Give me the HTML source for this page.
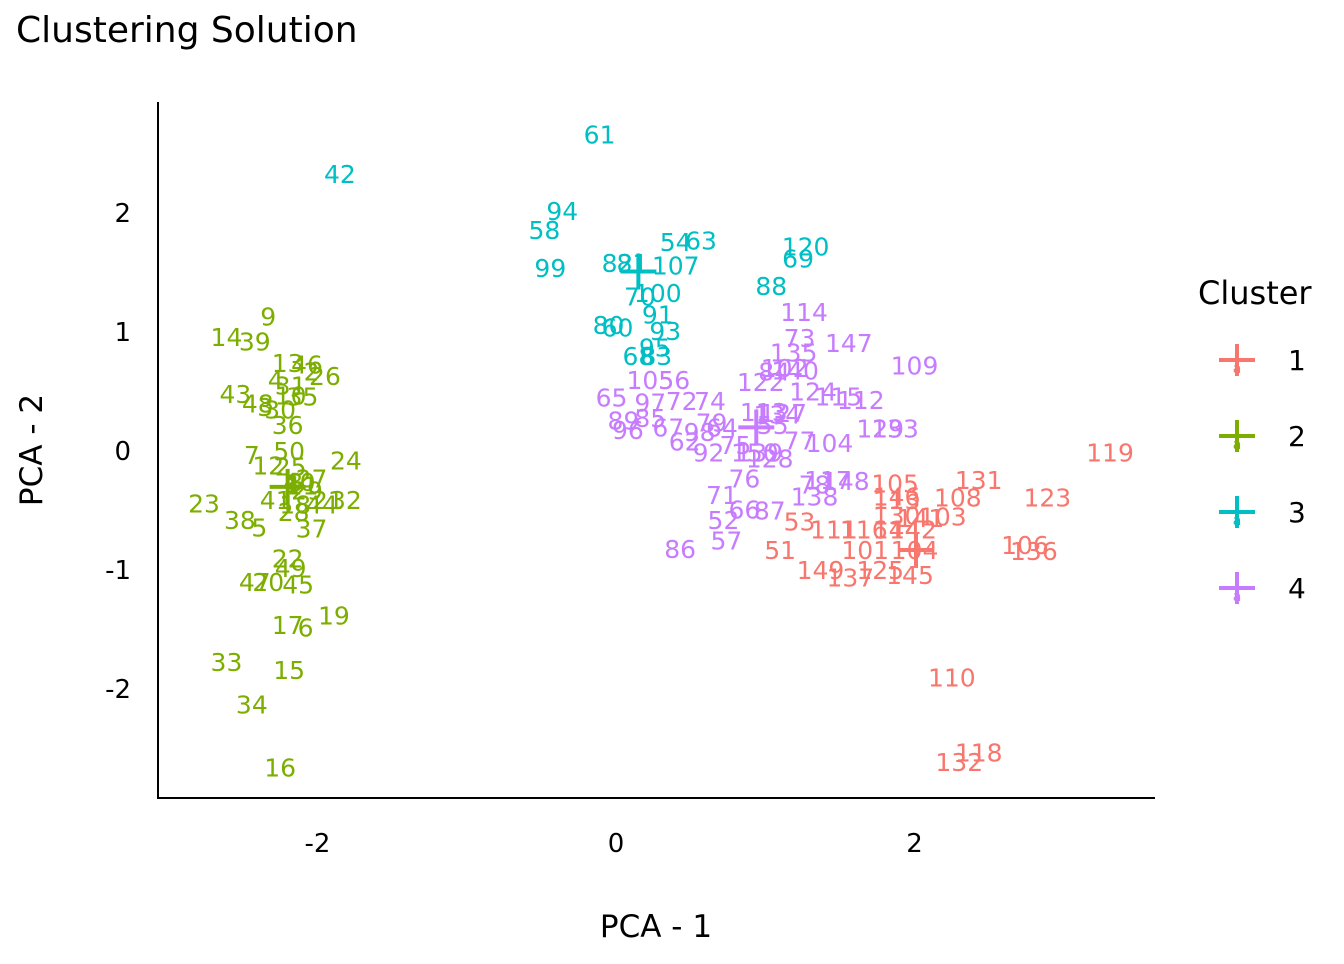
<!DOCTYPE html>
<html><head><meta charset="utf-8"><style>
body{margin:0;background:#fff;font-family:"DejaVu Sans",sans-serif}
svg text{font-family:"DejaVu Sans",sans-serif}
</style></head><body>
<svg id="chart" width="1344" height="960" xmlns="http://www.w3.org/2000/svg">
<text x="16" y="42" font-size="36" fill="#000">Clustering Solution</text>
<line x1="158" y1="102" x2="158" y2="799" stroke="#000" stroke-width="2"/>
<line x1="157" y1="798" x2="1155" y2="798" stroke="#000" stroke-width="2"/>
<text x="656" y="937" font-size="31" text-anchor="middle">PCA - 1</text>
<text transform="translate(42,450) rotate(-90)" font-size="31" text-anchor="middle">PCA - 2</text>
<g id="ticks"></g><g id="marks"></g><g id="legend"></g>
</svg>
<script>
const xTicks=[-2,0,2];
const yTicks=[2,1,0,-1,-2];
const clusterNames=["1","2","3","4"];
const colors=["#F8766D","#7CAE00","#00BFC4","#C77CFF"];
const labels=["9","14","39","13","46","2","26","4","31","35","10","43","48","3","30","36","7","50","12","25","24","27","8","40","1","29","23","41","18","21","32","44","28","38","5","37","22","49","47","20","45","17","6","19","33","15","34","16","11",
"61","42","94","58","99","82","81","107","54","63","120","69","88","70","100","91","80","60","93","95","68","83",
"114","73","135","147","109","84","102","140","122","124","115","112","105","56","65","97","72","74","85","89","96","67","62","92","98","79","64","75","113","127","134","55","150","139","128","77","104","129","133","78","117","148","76","71","138","66","87","52","57","86",
"119","131","123","105","146","113","108","130","141","103","53","111","116","144","142","101","104","51","149","125","137","145","106","136","110","118","132"];
const xs=[-2.33,-2.61,-2.42,-2.20,-2.07,-2.04,-1.95,-2.28,-2.18,-2.10,-2.18,-2.55,-2.40,-2.35,-2.25,-2.20,-2.44,-2.19,-2.33,-2.18,-1.81,-2.04,-2.15,-2.12,-2.17,-2.07,-2.76,-2.28,-2.15,-1.93,-1.81,-1.97,-2.16,-2.52,-2.39,-2.04,-2.20,-2.18,-2.42,-2.33,-2.13,-2.20,-2.08,-1.89,-2.61,-2.19,-2.44,-2.25,-2.10,
-0.11,-1.85,-0.36,-0.48,-0.44,0.01,0.11,0.40,0.40,0.57,1.27,1.22,1.04,0.16,0.28,0.28,-0.05,0.01,0.33,0.26,0.15,0.27,
1.26,1.23,1.19,1.56,2.00,1.06,1.13,1.20,0.97,1.32,1.49,1.64,0.23,0.39,-0.03,0.23,0.44,0.63,0.23,0.05,0.08,0.35,0.46,0.62,0.56,0.64,0.71,0.80,0.99,1.12,1.08,1.05,0.93,0.96,1.03,1.23,1.43,1.77,1.87,1.33,1.42,1.54,0.86,0.71,1.33,0.86,1.03,0.72,0.74,0.43,
3.31,2.43,2.89,1.87,1.88,1.88,2.29,1.88,2.04,2.19,1.23,1.46,1.66,1.88,1.99,1.67,2.00,1.10,1.37,1.77,1.57,1.97,2.74,2.80,2.25,2.43,2.30];
const ys=[1.12,0.95,0.91,0.73,0.72,0.66,0.62,0.59,0.54,0.45,0.46,0.47,0.39,0.36,0.34,0.21,-0.04,-0.01,-0.13,-0.14,-0.09,-0.24,-0.27,-0.27,-0.28,-0.34,-0.45,-0.42,-0.46,-0.42,-0.42,-0.46,-0.52,-0.59,-0.65,-0.66,-0.91,-0.99,-1.11,-1.11,-1.13,-1.47,-1.49,-1.39,-1.78,-1.85,-2.14,-2.67,-0.30,
2.65,2.32,2.01,1.85,1.53,1.57,1.57,1.55,1.75,1.76,1.71,1.61,1.38,1.29,1.32,1.14,1.05,1.03,1.00,0.86,0.79,0.79,
1.16,0.94,0.82,0.90,0.71,0.66,0.69,0.67,0.57,0.49,0.45,0.42,0.59,0.59,0.44,0.40,0.41,0.41,0.27,0.25,0.17,0.19,0.07,-0.02,0.15,0.23,0.19,0.04,0.32,0.31,0.30,0.21,-0.02,-0.02,-0.07,0.08,0.06,0.18,0.18,-0.29,-0.25,-0.26,-0.24,-0.38,-0.39,-0.50,-0.51,-0.59,-0.76,-0.83,
-0.02,-0.25,-0.40,-0.28,-0.39,-0.42,-0.40,-0.55,-0.57,-0.56,-0.60,-0.67,-0.67,-0.67,-0.67,-0.84,-0.84,-0.84,-1.01,-1.01,-1.07,-1.05,-0.80,-0.85,-1.91,-2.54,-2.62];
const clusters=[2,2,2,2,2,2,2,2,2,2, 2,2,2,2,2,2,2,2,2,2, 2,2,2,2,2,2,2,2,2,2, 2,2,2,2,2,2,2,2,2,2, 2,2,2,2,2,2,2,2,2,
3,3,3,3,3,3,3,3,3,3, 3,3,3,3,3,3,3,3,3,3, 3,3,
4,4,4,4,4,4,4,4,4,4, 4,4,4,4,4,4,4,4,4,4, 4,4,4,4,4,4,4,4,4,4, 4,4,4,4,4,4,4,4,4,4, 4,4,4,4,4,4,4,4,4,4,
1,1,1,1,1,1,1,1,1,1, 1,1,1,1,1,1,1,1,1,1, 1,1,1,1,1,1,1];
const centerX=[2.01,-2.20,0.15,0.94];
const centerY=[-0.84,-0.31,1.50,0.19];
const NS="http://www.w3.org/2000/svg";
function sx(v){return 616+v*149.25;}
function sy(v){return 450-v*119;}
function mk(tag,attrs,parent){const e=document.createElementNS(NS,tag);for(const k in attrs)e.setAttribute(k,attrs[k]);parent.appendChild(e);return e;}
const ticks=document.getElementById('ticks');
xTicks.forEach(t=>{const e=mk('text',{x:sx(t),y:852,'font-size':26,'text-anchor':'middle'},ticks);


e.textContent=t;});
yTicks.forEach(t=>{const e=mk('text',{x:131,y:sy(t)+10,'font-size':26,'text-anchor':'end'},ticks);


e.textContent=t;});
const marks=document.getElementById('marks');
labels.forEach((l,i)=>{const e=mk('text',{x:sx(xs[i]),y:sy(ys[i])+9,'font-size':25,'text-anchor':'middle',fill:colors[clusters[i]-1]},marks);


e.textContent=l;});
centerX.forEach((cx,i)=>{const g=mk('g',{stroke:colors[i],'stroke-width':4},marks);


mk('line',{x1:sx(cx)-18,y1:sy(centerY[i]),x2:sx(cx)+18,y2:sy(centerY[i])},g);
mk('line',{x1:sx(cx),y1:sy(centerY[i])-18,x2:sx(cx),y2:sy(centerY[i])+18},g);});
const lg=document.getElementById('legend');
const lt=mk('text',{x:1198,y:304,'font-size':32},lg);


lt.textContent='Cluster';
clusterNames.forEach((n,i)=>{const cy=360+i*76;const g=mk('g',{},lg);


mk('line',{x1:1219,y1:cy,x2:1255,y2:cy,stroke:colors[i],'stroke-width':4},g);
mk('line',{x1:1237,y1:cy-16,x2:1237,y2:cy+16,stroke:colors[i],'stroke-width':4},g);
const a=mk('text',{x:1237,y:cy+13,'font-size':14,'text-anchor':'middle',fill:colors[i]},g);a.textContent='a';
const t=mk('text',{x:1288,y:cy+10,'font-size':28},g);t.textContent=n;});
</script>
</body></html>
